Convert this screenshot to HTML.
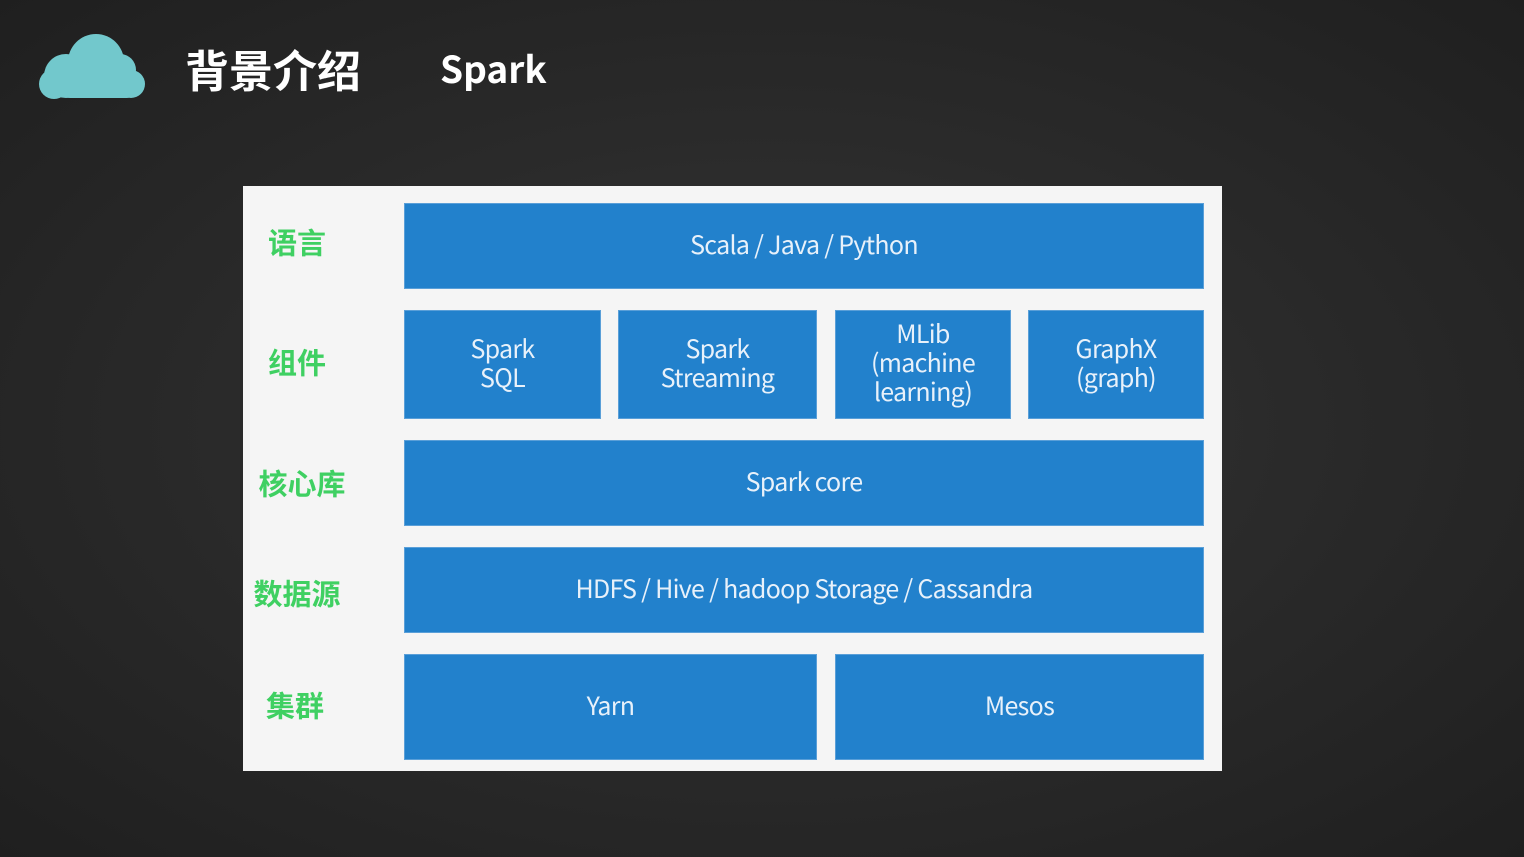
<!DOCTYPE html>
<html><head><meta charset="utf-8"><style>
*{margin:0;padding:0;box-sizing:border-box}
body{width:1524px;height:857px;overflow:hidden;background:radial-gradient(ellipse at 50% 50%,#363636 0%,#2a2a2a 50%,#1f1f1f 100%);font-family:"Liberation Sans","Noto Sans CJK SC",sans-serif;position:relative}
.a{position:absolute}
.t{color:#fff;font-weight:bold;font-family:"Noto Sans CJK SC",sans-serif}
.panel{left:243px;top:186px;width:979px;height:585px;background:#f5f5f5}
.b{position:absolute;background:#2281cc;border:1px solid #5a9fd8;color:#e8f1fa;font-size:25px;line-height:29px;display:flex;align-items:center;justify-content:center;text-align:center;letter-spacing:-0.7px;font-family:"Noto Sans CJK SC","Liberation Sans",sans-serif;padding-bottom:4px}
.l{position:absolute;color:#3fd062;font-weight:bold;font-size:29px;font-family:"Noto Sans CJK SC",sans-serif;line-height:1;transform:translate(-50%,-50%);white-space:nowrap}
</style></head><body>
<svg class="a" style="left:36px;top:32px" width="110" height="68" viewBox="0 0 110 68">
<g fill="#72c8cc"><circle cx="60" cy="30" r="28"/><circle cx="84" cy="38" r="16"/><circle cx="95" cy="52" r="14"/><circle cx="30" cy="44" r="22"/><rect x="22" y="40" width="80" height="26" rx="12"/><circle cx="18" cy="52" r="15"/></g></svg>
<div class="a t" style="left:185px;top:40px;font-size:44px;line-height:56px">背景介绍</div>
<div class="a t" style="left:440px;top:43px;font-size:37px;line-height:48px">Spark</div>
<div class="a panel"></div>
<div class="l" style="left:297px;top:242px">语言</div>
<div class="l" style="left:297px;top:362px">组件</div>
<div class="l" style="left:302px;top:483px">核心库</div>
<div class="l" style="left:297px;top:593px">数据源</div>
<div class="l" style="left:295px;top:705px">集群</div>
<div class="b" style="left:404px;top:203px;width:800px;height:86px">Scala / Java / Python</div>
<div class="b" style="left:404px;top:310px;width:197px;height:109px">Spark<br>SQL</div>
<div class="b" style="left:618px;top:310px;width:199px;height:109px">Spark<br>Streaming</div>
<div class="b" style="left:835px;top:310px;width:176px;height:109px">MLib<br>(machine<br>learning)</div>
<div class="b" style="left:1028px;top:310px;width:176px;height:109px">GraphX<br>(graph)</div>
<div class="b" style="left:404px;top:440px;width:800px;height:86px">Spark core</div>
<div class="b" style="left:404px;top:547px;width:800px;height:86px">HDFS / Hive / hadoop Storage / Cassandra</div>
<div class="b" style="left:404px;top:654px;width:413px;height:106px">Yarn</div>
<div class="b" style="left:835px;top:654px;width:369px;height:106px">Mesos</div>
</body></html>
